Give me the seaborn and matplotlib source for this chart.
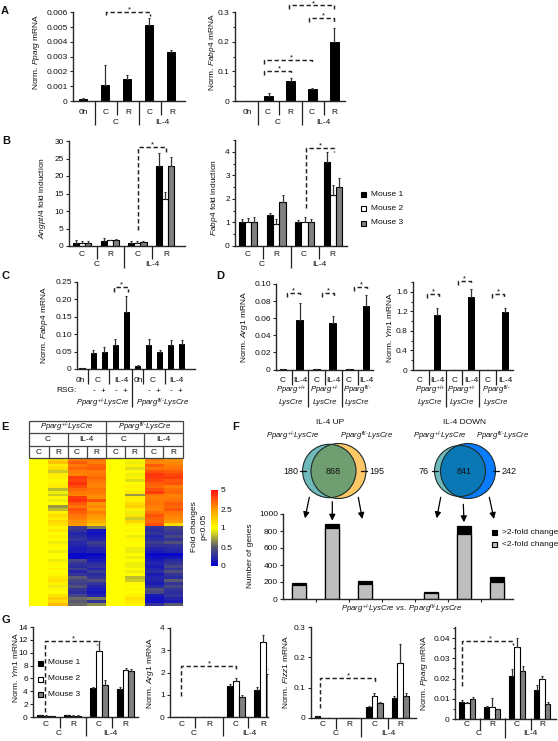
import numpy as np
import pandas as pd
import matplotlib
matplotlib.use('Agg')
from matplotlib import pyplot as plt
from matplotlib.colors import LinearSegmentedColormap
from matplotlib.patches import Circle, Rectangle
import seaborn as sns

W, H = 558, 741

# panel A
a_conds = ['0h', 'C/C', 'C/R', 'IL-4/C', 'IL-4/R']
a1_vals = [0.00012, 0.0011, 0.0015, 0.00515, 0.0033]
a1_tops = [0.00017, 0.00245, 0.00175, 0.0056, 0.00345]
a2_vals = [0.0, 0.017, 0.068, 0.042, 0.2]
a2_tops = [0.0, 0.027, 0.078, 0.045, 0.248]

# panel B / G share groups and three mice
groups = ['C/C', 'C/R', 'IL-4/C', 'IL-4/R']
mice = ['Mouse 1', 'Mouse 2', 'Mouse 3']
b1_vals = [[1, 1, 1], [1.4, 1.6, 1.8], [1, 1, 1.1], [22.8, 13.5, 22.9]]
b1_tops = [[1.7, 1.3, 1.3], [2.2, 1.7, 2.1], [1.4, 1.3, 1.3], [26.7, 15.5, 25.3]]
b2_vals = [[1, 1, 1], [1.3, 0.95, 1.85], [1, 1, 1], [3.55, 2.15, 2.5]]
b2_tops = [[1.15, 1.2, 1.25], [1.4, 1.13, 2.15], [1.12, 1.22, 1.15], [4.0, 2.6, 2.87]]

# panel C
c_conds = ['0h', 'C-', 'C+', 'IL4-', 'IL4+', '0h fl', 'C- fl', 'C+ fl', 'IL4- fl', 'IL4+ fl']
c_vals = [0.002, 0.045, 0.05, 0.07, 0.165, 0.008, 0.07, 0.05, 0.07, 0.072]
c_tops = [0.004, 0.055, 0.062, 0.087, 0.21, 0.011, 0.087, 0.056, 0.083, 0.083]

# panel D
d_conds = ['C wt', 'IL4 wt', 'C het', 'IL4 het', 'C fl', 'IL4 fl']
d1_vals = [0.0003, 0.058, 0.0003, 0.054, 0.0003, 0.074]
d1_tops = [0.0003, 0.078, 0.0003, 0.063, 0.0003, 0.087]
d2_vals = [0.005, 1.13, 0.005, 1.49, 0.005, 1.19]
d2_tops = [0.005, 1.27, 0.005, 1.66, 0.005, 1.27]

# panel E, fold changes row by row
heat_rows = [
    [1, 1.6, 3.0, 3.2, 1, 1.1, 3.0, 2.6],
    [1, 1.9, 3.6, 3.0, 1, 0.95, 2.8, 2.8],
    [1, 1.3, 3.1, 3.4, 1, 1.2, 3.6, 3.0],
    [1, 1.5, 3.4, 3.6, 1, 0.9, 3.2, 3.2],
    [1, 0.85, 3.0, 3.0, 1, 1.1, 3.8, 3.6],
    [1, 1.3, 2.9, 3.1, 1, 0.95, 4.3, 4.0],
    [1, 1.2, 4.2, 3.4, 1, 1.2, 4.2, 4.2],
    [1, 1.1, 4.0, 3.2, 1, 0.9, 4.0, 3.7],
    [1, 1.2, 4.4, 3.0, 1, 1.0, 3.6, 3.8],
    [1, 1.3, 3.9, 2.9, 1, 1.2, 3.4, 3.0],
    [1, 0.8, 3.4, 3.2, 1, 1.1, 3.8, 3.3],
    [1, 0.95, 3.1, 3.1, 1, 1.3, 4.2, 3.4],
    [1, 0.85, 2.9, 2.8, 1, 0.7, 3.2, 2.9],
    [1, 1.1, 4.2, 2.7, 1, 1.3, 3.0, 3.0],
    [1, 0.95, 4.4, 3.8, 1, 1.2, 3.1, 3.2],
    [1, 1.0, 3.7, 2.6, 1, 1.5, 3.2, 3.6],
    [1, 0.7, 3.2, 2.8, 1, 1.7, 3.0, 3.4],
    [1, 0.8, 3.8, 2.5, 1, 1.2, 2.9, 3.7],
    [1, 1.2, 3.5, 3.0, 1, 0.95, 3.3, 3.2],
    [1, 1.5, 3.2, 2.6, 1, 1.4, 3.8, 3.0],
    [1, 1.3, 3.0, 2.4, 1, 0.85, 3.5, 2.8],
    [1, 1.6, 2.7, 2.2, 1, 1.6, 3.4, 2.5],
    [1, 1.4, 2.5, 1.9, 1, 1.2, 3.9, 1.5],
    [1, 1.1, 0.35, 0.6, 1, 1.0, 0.3, 0.4],
    [1, 1.3, 0.3, 0.12, 1, 1.1, 0.25, 0.35],
    [1, 1.0, 0.2, 0.1, 1, 1.0, 0.3, 0.3],
    [1, 1.2, 0.25, 0.15, 1, 0.95, 0.2, 0.4],
    [1, 1.0, 0.3, 0.2, 1, 1.1, 0.25, 0.3],
    [1, 0.95, 0.22, 0.35, 1, 1.0, 0.35, 0.45],
    [1, 1.1, 0.2, 0.3, 1, 1.0, 0.3, 0.3],
    [1, 1.0, 0.15, 0.2, 1, 0.95, 0.2, 0.25],
    [1, 0.95, 0.15, 0.2, 1, 0.95, 0.15, 0.2],
    [1, 1.0, 0.05, 0.05, 1, 1.0, 0.04, 0.03],
    [1, 1.0, 0.05, 0.1, 1, 0.95, 0.08, 0.12],
    [1, 0.95, 0.4, 0.15, 1, 1.0, 0.15, 0.25],
    [1, 1.1, 0.3, 0.25, 1, 0.95, 0.2, 0.3],
    [1, 1.0, 0.25, 0.3, 1, 0.95, 0.15, 0.4],
    [1, 1.2, 0.35, 0.2, 1, 1.0, 0.2, 0.3],
    [1, 1.0, 0.2, 0.35, 1, 0.95, 0.25, 0.45],
    [1, 1.1, 0.3, 0.25, 1, 1.0, 0.15, 0.3],
    [1, 1.3, 0.5, 0.3, 1, 0.8, 0.2, 0.25],
    [1, 1.4, 0.4, 0.45, 1, 0.85, 0.2, 0.5],
    [1, 1.2, 0.35, 0.3, 1, 1.1, 0.15, 0.3],
    [1, 0.95, 0.45, 0.2, 1, 1.0, 0.25, 0.4],
    [1, 1.1, 0.3, 0.15, 1, 1.1, 0.45, 0.3],
    [1, 1.0, 0.25, 0.12, 1, 1.0, 0.4, 0.25],
    [1, 1.4, 0.4, 0.2, 1, 1.2, 0.15, 0.3],
    [1, 1.7, 0.55, 0.6, 1, 1.4, 0.1, 0.2],
    [1, 1.5, 0.5, 0.3, 1, 1.3, 0.1, 0.15],
    [1, 2.0, 0.55, 0.65, 1, 1.1, 0.3, 0.5],
]
cbar_ticks = [0, 0.5, 1, 2.5, 5]
cbar_labels = ['0', '0.5', '1', '2.5', '5']

# panel F
f_order = ['wt up', 'both up', 'fl up', 'gap', 'wt down', 'both down', 'fl down']
f_cats = ['wt up', 'both up', 'fl up', 'wt down', 'both down', 'fl down']
f_total = [192, 882, 208, 86, 855, 255]
f_below2 = [168, 831, 176, 76, 765, 204]

# panel G
g1_vals = [[0.25, 0.2, 0.15], [0.3, 0.2, 0.2], [4.5, 10.2, 5.0], [4.3, 7.3, 7.1]]
g1_tops = [[0.3, 0.25, 0.2], [0.35, 0.25, 0.25], [4.7, 11.9, 5.8], [4.6, 7.6, 7.4]]
g2_vals = [[0.01, 0.01, 0.01], [0.01, 0.01, 0.01], [1.4, 1.6, 0.9], [1.22, 3.35, 1.92]]
g2_tops = [[0.01, 0.01, 0.01], [0.01, 0.01, 0.01], [1.5, 1.75, 0.98], [1.37, 3.68, 2.17]]
g3_vals = [[0.006, 0.001, 0.001], [0.001, 0.001, 0.001], [0.037, 0.072, 0.048], [0.067, 0.18, 0.073]]
g3_tops = [[0.008, 0.001, 0.001], [0.001, 0.001, 0.001], [0.04, 0.081, 0.054], [0.072, 0.245, 0.082]]
g4_vals = [[0.0085, 0.0078, 0.0098], [0.0058, 0.0058, 0.0048], [0.0213, 0.0355, 0.0235], [0.0145, 0.0197, 0.0076]]
g4_tops = [[0.0093, 0.0085, 0.0108], [0.0063, 0.0105, 0.005], [0.0245, 0.04, 0.026], [0.017, 0.0212, 0.0082]]

WT = r'$\mathit{Pparg}^{\text{+/-}}\mathit{LysCre}$'
FL = r'$\mathit{Pparg}^{\text{fl/-}}\mathit{LysCre}$'

sns.set_theme(style='ticks', rc={
    'axes.linewidth': 1.0,
    'xtick.major.width': 0.8,
    'ytick.major.width': 0.8,
    'ytick.minor.width': 0.8,
    'ytick.major.size': 2.2,
    'ytick.minor.size': 1.5,
    'xtick.major.size': 2.2,
    'ytick.major.pad': 1.5,
})
plt.rcParams['font.family'] = ['Liberation Sans', 'DejaVu Sans']
plt.rcParams['mathtext.fontset'] = 'custom'
plt.rcParams['mathtext.rm'] = 'Liberation Sans'
plt.rcParams['mathtext.it'] = 'Liberation Sans:italic'
plt.rcParams['mathtext.bf'] = 'Liberation Sans:bold'
plt.rcParams['mathtext.default'] = 'regular'

fig = plt.figure(figsize=(W / 100, H / 100), dpi=100)

# overlay in pixel coordinates for labels, brackets and the venn diagrams
over = fig.add_axes([0, 0, 1, 1], zorder=10)
over.set_xlim(0, W)
over.set_ylim(H, 0)
over.axis('off')


def px_axes(left, right, top, bottom):
    return fig.add_axes([left / W, 1 - bottom / H, (right - left) / W, (bottom - top) / H])


def txt(x, y, s, size=6, ha='center', va='center', **kw):
    over.text(x, y, s, fontsize=size, ha=ha, va=va, color='#111111', **kw)


def vline(x, y0, y1, color='#222222', lw=0.9):
    over.plot([x, x], [y0, y1], color=color, lw=lw, solid_capstyle='butt')


def bracket(x0, x1, y, y_left, y_right, star_x, star_y):
    over.plot([x0, x0, x1, x1], [y_left, y, y, y_right], color='#222222', lw=1.05, ls=(0, (3, 1.8)))
    txt(star_x, star_y, '*', size=5.5)


def finish_axes(ax, box, c0, step, ymax, yticks, ylabels, minor=None):
    ax.set_xlim((box[0] - c0) / step, (box[1] - c0) / step)
    ax.set_ylim(0, ymax)
    ax.set_yticks(yticks)
    ax.set_yticklabels(ylabels, fontsize=6, color='#111111')
    if minor is not None:
        ax.set_yticks(minor, minor=True)
    ax.set_xticks([])
    ax.set_xlabel('')
    ax.set_ylabel('')
    sns.despine(ax=ax)
    ax.patch.set_alpha(0)


def single_bars(box, c0, step, conds, vals, tops, width, ymax, yticks, ylabels, minor=None):
    ax = px_axes(*box)
    df = pd.DataFrame({'cond': conds, 'value': vals, 'top': tops})
    sns.barplot(data=df, x='cond', y='value', order=conds, color='black', saturation=1,
                width=width, edgecolor='black', linewidth=0.7, errorbar=None, ax=ax)
    xs = [b.get_x() + b.get_width() / 2 for b in ax.containers[0]]
    ax.errorbar(xs, df['value'], yerr=[np.zeros(len(df)), df['top'] - df['value']], fmt='none',
                ecolor='#333333', elinewidth=0.9, capsize=0.9, capthick=0.8)
    finish_axes(ax, box, c0, step, ymax, yticks, ylabels, minor)
    return ax


def mouse_bars(box, c0, step, vals, tops, ymax, yticks, ylabels, minor=None, width=0.66):
    ax = px_axes(*box)
    rows = []
    for g, v_row, t_row in zip(groups, vals, tops):
        for m, v, t in zip(mice, v_row, t_row):
            rows.append({'group': g, 'mouse': m, 'value': v, 'top': t})
    df = pd.DataFrame(rows)
    sns.barplot(data=df, x='group', y='value', hue='mouse', order=groups, hue_order=mice,
                palette=['black', 'white', '#808080'], saturation=1, width=width, edgecolor='black',
                linewidth=0.8, errorbar=None, legend=False, ax=ax)
    for container, m in zip(ax.containers, mice):
        sub = df[df['mouse'] == m]
        xs = [b.get_x() + b.get_width() / 2 for b in container]
        ax.errorbar(xs, sub['value'], yerr=[np.zeros(len(sub)), sub['top'] - sub['value']], fmt='none',
                    ecolor='#333333', elinewidth=0.9, capsize=0.8, capthick=0.8)
    finish_axes(ax, box, c0, step, ymax, yticks, ylabels, minor)
    return ax


def under_labels(centers, names, y):
    for x, n in zip(centers, names):
        txt(x, y, n)


# panel letters
for letter, x, y in [('A', 1, 11), ('B', 2, 141), ('C', 2, 276), ('D', 216, 276),
                     ('E', 1, 427), ('F', 232, 427), ('G', 2, 620)]:
    txt(x, y, letter, size=8, fontweight='bold', ha='left')

# A
single_bars((73, 185, 12.3, 101), 83, 22, a_conds, a1_vals, a1_tops, 0.4, 0.006,
            [0, .001, .002, .003, .004, .005, .006],
            ['0', '0.001', '0.002', '0.003', '0.004', '0.005', '0.006'])
single_bars((235, 345, 12.3, 101), 247, 21.8, a_conds, a2_vals, a2_tops, 0.4, 0.3,
            [0, .1, .2, .3], ['0', '0.1', '0.2', '0.3'], minor=[.05, .15, .25])
txt(37, 52, r'Norm. $\mathit{Pparg}$ mRNA', rotation=90)
txt(212, 52, r'Norm. $\mathit{Fabp4}$ mRNA', rotation=90)
under_labels([83, 106, 128, 150, 172], ['0h', 'C', 'R', 'C', 'R'], 113)
under_labels([247, 268, 290, 312, 334], ['0h', 'C', 'R', 'C', 'R'], 113)
for x in (95, 139, 258, 302):
    vline(x, 101, 125)
for x in (117, 161, 279, 324):
    vline(x, 101, 115)
under_labels([116, 162, 278, 323], ['C', 'IL-4', 'C', 'IL-4'], 122)
bracket(106, 150, 12, 15, 16, 129, 10)
bracket(264, 312, 60, 64, 64, 291, 58)
bracket(264, 291, 71, 75, 75, 279, 69)
bracket(309, 334, 18, 22, 22, 323, 16)
bracket(289, 334, 5, 9, 9, 313, 3.5)

# B
mouse_bars((69, 185, 141, 246), 82, 27.7, b1_vals, b1_tops, 30,
           [0, 5, 10, 15, 20, 25, 30], ['0', '5', '10', '15', '20', '25', '30'])
mouse_bars((235, 347, 140, 246), 248, 28.3, b2_vals, b2_tops, 4.5,
           [0, 1, 2, 3, 4], ['0', '1', '2', '3', '4'], minor=[.5, 1.5, 2.5, 3.5, 4.5])
txt(43, 198, r'$\mathit{Angptl4}$ fold induction', rotation=90)
txt(215, 198, r'$\mathit{Fabp4}$ fold induction', rotation=90)
under_labels([82, 110, 138, 166], ['C', 'R', 'C', 'R'], 255)
under_labels([248, 276, 304, 332], ['C', 'R', 'C', 'R'], 255)
for x in (97, 152, 263, 319):
    vline(x, 246, 259)
for x in (124, 291):
    vline(x, 246, 268)
under_labels([97, 152, 262, 319], ['C', 'IL-4', 'C', 'IL-4'], 265)
bracket(138, 166, 147, 230, 152, 152, 145)
bracket(306, 334, 148, 208, 152, 320, 146)
for name, color, y in zip(mice, ['black', 'white', '#808080'], [194, 208, 223]):
    over.add_patch(Rectangle((360.5, y - 2.5), 5, 5, fc=color, ec='black', lw=0.8))
    txt(371, y, name, ha='left')

# C
single_bars((77, 195, 282, 369), 82, 11.1, c_conds, c_vals, c_tops, 0.46, 0.25,
            [0, .05, .1, .15, .2, .25], ['0', '0.05', '0.10', '0.15', '0.20', '0.25'])
txt(44, 325, r'Norm. $\mathit{Fabp4}$ mRNA', rotation=90)
under_labels([80, 98, 121, 138, 153, 176], ['0h', 'C', 'IL-4', '0h', 'C', 'IL-4'], 380)
for x in (88, 109, 143, 165):
    vline(x, 369, 384)
vline(132, 369, 407)
txt(56, 391, 'RSG:', ha='left')
under_labels([94, 103, 116, 125, 149, 158, 171, 180], ['-', '+', '-', '+', '-', '+', '-', '+'], 391)
txt(102.5, 403, WT, size=5.6)
txt(162.5, 403, FL, size=5.6)
bracket(114, 128, 287, 292, 292, 121, 285)

# D
single_bars((276, 373, 284, 369.5), 283, 16.6, d_conds, d1_vals, d1_tops, 0.4, 0.1,
            [0, .02, .04, .06, .08, .1], ['0', '0.02', '0.04', '0.06', '0.08', '0.10'])
single_bars((413, 513, 282, 370), 420, 17, d_conds, d2_vals, d2_tops, 0.4, 1.8,
            [0, .4, .8, 1.2, 1.6], ['0', '0.4', '0.8', '1.2', '1.6'], minor=[.2, .6, 1.0, 1.4, 1.8])
txt(244, 327, r'Norm. $\mathit{Arg1}$ mRNA', rotation=90)
txt(390, 327, r'Norm. $\mathit{Ym1}$ mRNA', rotation=90)
under_labels([283, 300, 317, 333, 349, 366], ['C', 'IL-4', 'C', 'IL-4', 'C', 'IL-4'], 380)
under_labels([420, 437, 455, 471, 488, 505], ['C', 'IL-4', 'C', 'IL-4', 'C', 'IL-4'], 380)
for x in (292, 325, 358, 429, 462, 496):
    vline(x, 370, 385)
for x in (308, 342, 446, 479):
    vline(x, 370, 407)
geno = [r'$\mathit{Pparg}^{\text{+/+}}$', r'$\mathit{Pparg}^{\text{+/-}}$', r'$\mathit{Pparg}^{\text{fl/-}}$']
for xs in ([291, 325, 357], [430, 462, 496]):
    for x, g in zip(xs, geno):
        txt(x, 390.5, g, size=5.6)
        txt(x, 402, 'LysCre', size=5.6, style='italic')
bracket(287, 300, 293, 297, 297, 293, 291)
bracket(322, 334, 293, 297, 297, 328, 291)
bracket(354, 367, 287, 291, 291, 361, 284.5)
bracket(427, 439, 294, 298, 298, 433, 292)
bracket(458, 471, 281, 285, 285, 464, 278.5)
bracket(492, 504, 294, 298, 298, 498, 292)

# E
heat_cmap = LinearSegmentedColormap.from_list('fold', [
    (0, '#0000d2'), (0.25, '#585870'), (0.5, '#ffff00'), (0.75, '#ff9a00'), (1, '#ff1010')])
tick_pos = np.arange(len(cbar_ticks))
heat_scaled = np.interp(np.array(heat_rows, dtype=float), cbar_ticks, tick_pos)
ax_heat = px_axes(29, 183, 458, 606)
ax_cbar = px_axes(211, 218, 490, 566)
sns.heatmap(heat_scaled, cmap=heat_cmap, vmin=0, vmax=4, xticklabels=False, yticklabels=False,
            ax=ax_heat, cbar_ax=ax_cbar, cbar_kws={'ticks': tick_pos}, rasterized=True)
ax_cbar.set_yticklabels(cbar_labels, fontsize=6, color='#111111')
ax_cbar.tick_params(length=0, pad=2)
txt(194, 527, 'Fold changes', rotation=90)
txt(204, 527, 'p<0.05', rotation=90)
edge = '#444444'
over.add_patch(Rectangle((29, 421), 154, 37, fill=False, ec=edge, lw=0.9))
for y in (433, 446):
    over.plot([29, 183], [y, y], color=edge, lw=0.9)
vline(106, 421, 458, color=edge)
for x in (68, 144):
    vline(x, 433, 458, color=edge)
for x in (49, 87, 125, 163):
    vline(x, 446, 458, color=edge)
txt(67, 427.5, WT, size=5.6)
txt(145, 427.5, FL, size=5.6)
under_labels([48, 86, 124, 163], ['C', 'IL-4', 'C', 'IL-4'], 439.5)
under_labels([39, 58, 77, 96, 116, 134, 154, 173], ['C', 'R', 'C', 'R', 'C', 'R', 'C', 'R'], 452)

# F venn diagrams
def venn(cx0, r0, cx1, r1, cy, c_left, c_right, c_both):
    left = Circle((cx0, cy), r0, fc=c_left, ec='none')
    right = Circle((cx1, cy), r1, fc=c_right, ec='none')
    over.add_patch(right)
    over.add_patch(left)
    both = Circle((cx1, cy), r1, fc=c_both, ec='none')
    over.add_patch(both)
    both.set_clip_path(left)
    for c in ((cx0, r0), (cx1, r1)):
        over.add_patch(Circle((c[0], cy), c[1], fill=False, ec='#1c2a2a', lw=0.8))


venn(329.3, 26.7, 338.5, 27.5, 471, '#6fb9bb', '#ffc766', '#6f9f70')
venn(460, 25.5, 468, 27.5, 471, '#6fb9bb', '#0a7cff', '#0a78b4')
txt(330, 423, 'IL-4 UP')
txt(464, 423, 'IL-4 DOWN')
txt(293, 436, WT, size=5.6)
txt(367, 436, FL, size=5.6)
txt(440, 436, WT, size=5.6)
txt(503, 436, FL, size=5.6)
for x, s, x0, x1 in [(291, '180', 300, 306), (377, '195', 361, 367),
                     (424, '76', 432, 438), (509, '242', 493, 499)]:
    txt(x, 471, s, size=6.5)
    over.plot([x0, x1], [471, 471], color='#111111', lw=0.9)
txt(333, 472, '868', size=6.5)
txt(464, 471, '841', size=6.5)
for start, end in [((309.3, 497.3), (305, 518.3)), ((332.3, 501.7), (332.3, 520.7)),
                   ((358.3, 497.3), (362.3, 519)), ((440.7, 497.3), (436.7, 518.3)),
                   ((463.3, 504.3), (464, 522.3)), ((489.3, 497.3), (494, 519))]:
    over.annotate('', xy=end, xytext=start,
                  arrowprops=dict(arrowstyle='-|>', color='black', lw=0.9, mutation_scale=9,
                                  shrinkA=0, shrinkB=0))

# F bars
f_box = (283, 513, 514, 599)
ax_f = px_axes(*f_box)
f_df = pd.DataFrame({'cat': f_cats, 'total': f_total, 'below2': f_below2})
sns.barplot(data=f_df, x='cat', y='total', order=f_order, color='black', saturation=1, width=0.4,
            edgecolor='black', linewidth=0.9, errorbar=None, ax=ax_f)
sns.barplot(data=f_df, x='cat', y='below2', order=f_order, color='#bebebe', saturation=1, width=0.4,
            edgecolor='black', linewidth=0.9, errorbar=None, ax=ax_f)
finish_axes(ax_f, f_box, 299, 33, 1000, [0, 200, 400, 600, 800, 1000],
            ['0', '200', '400', '600', '800', '1000'])
ax_f.set_xticks([0.5, 1.5, 2.5, 3.5, 4.5, 5.5])
ax_f.set_xticklabels([])
txt(251, 556, 'Number of genes', rotation=90)
txt(402, 609, r'$\mathit{Pparg}^{\text{+/-}}\mathit{LysCre\ vs.\ Pparg}^{\text{fl/-}}\mathit{LysCre}$', size=5.6)
for name, color, y in [('>2-fold change', 'black', 532), ('<2-fold change', '#bebebe', 544)]:
    over.add_patch(Rectangle((491.5, y - 2.5), 5, 5, fc=color, ec='black', lw=0.8))
    txt(502, y, name, ha='left')

# G
mouse_bars((33, 138, 627, 717), 46, 26.5, g1_vals, g1_tops, 14,
           [0, 2, 4, 6, 8, 10, 12, 14], ['0', '2', '4', '6', '8', '10', '12', '14'])
mouse_bars((170, 268, 628, 717), 182, 27, g2_vals, g2_tops, 4,
           [0, 1, 2, 3, 4], ['0', '1', '2', '3', '4'])
mouse_bars((311, 416, 627, 718), 323, 25.7, g3_vals, g3_tops, 0.3,
           [0, .1, .2, .3], ['0', '0.1', '0.2', '0.3'])
mouse_bars((455, 556, 627, 719), 467, 25, g4_vals, g4_tops, 0.0455,
           [0, .01, .02, .03, .04], ['0', '0.01', '0.02', '0.03', '0.04'],
           minor=[.005, .015, .025, .035, .045])
txt(15, 667, r'Norm. $\mathit{Ym1}$ mRNA', rotation=90)
txt(151, 673, r'Norm. $\mathit{Arg1}$ mRNA', rotation=90)
txt(285, 672, r'Norm. $\mathit{Fizz1}$ mRNA', rotation=90)
txt(425, 673, r'Norm. $\mathit{Pparg}$ mRNA', rotation=90)
for centers in ([46, 73, 99, 125], [182, 209, 236, 263], [323, 349, 375, 400], [467, 492, 517, 542]):
    under_labels(centers, ['C', 'R', 'C', 'R'], 725)
for x, y1 in [(60, 728), (86, 736), (112, 728), (195, 728), (223, 736), (248, 728),
              (336, 729), (361, 737), (388, 729), (480, 730), (505, 738), (531, 730)]:
    vline(x, 717 if x < 300 else 718, y1)
under_labels([59, 110, 194, 249, 336, 388, 479, 530], ['C', 'IL-4'] * 4, 733.5)
bracket(45, 97, 641, 712, 645, 73, 639)
bracket(181, 236, 666, 696, 669, 209, 664)
bracket(320, 375, 678, 708, 683, 348, 676)
bracket(462, 513, 641, 686, 645, 490, 639)
for name, color, y in zip(mice, ['black', 'white', '#808080'], [663, 679, 694]):
    over.add_patch(Rectangle((37.5, y - 2.5), 5, 5, fc=color, ec='black', lw=0.8))
    txt(48, y, name, ha='left')

fig.savefig('out.png', dpi=100)
